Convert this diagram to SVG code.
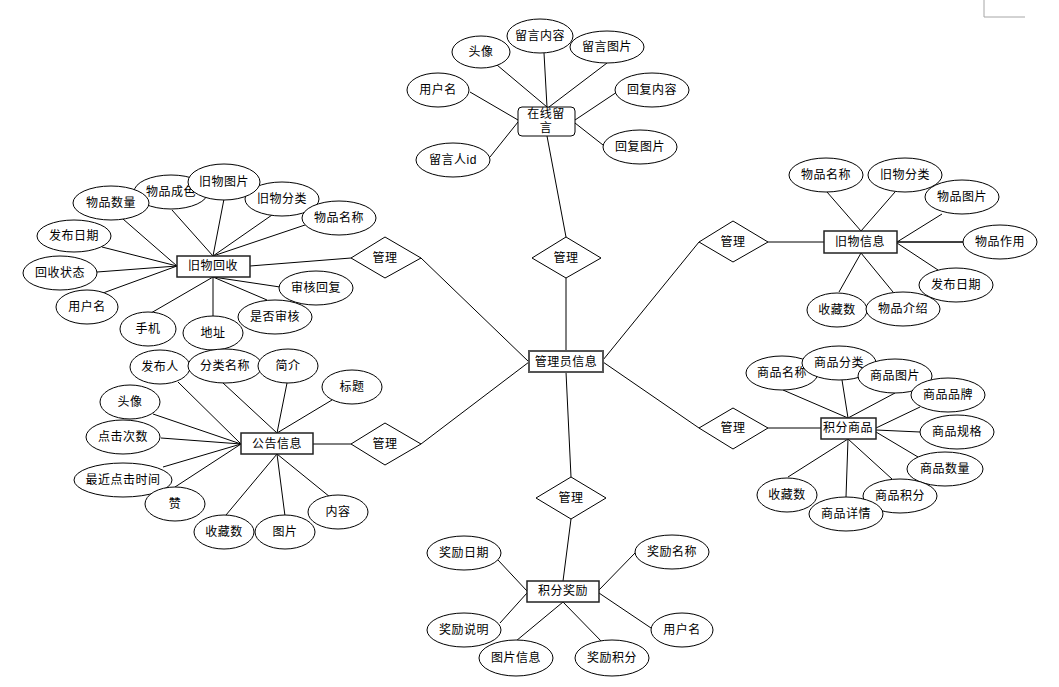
<svg xmlns="http://www.w3.org/2000/svg" width="1059" height="687" viewBox="0 0 1059 687">
<style>
.c line{stroke:#000;stroke-width:1}
.e{fill:#fff;stroke:#000;stroke-width:1}
.r{fill:#fff;stroke:#222;stroke-width:1.5}
.d{fill:#fff;stroke:#000;stroke-width:1}
text{font-family:"Liberation Sans","Noto Sans CJK SC",sans-serif;font-size:12px;fill:#000;text-anchor:middle;dominant-baseline:central;letter-spacing:0.5px}
</style>
<rect width="1059" height="687" fill="#fff"/>
<path d="M984,0 V17 H1025" fill="none" stroke="#a6a6a6" stroke-width="1"/>
<g id="connectors" class="c">
<line x1="547" y1="136" x2="566" y2="237"/>
<line x1="566" y1="278" x2="566" y2="351"/>
<line x1="421" y1="258" x2="529" y2="362"/>
<line x1="421" y1="444" x2="529" y2="362"/>
<line x1="603" y1="360" x2="699" y2="242"/>
<line x1="603" y1="362" x2="699" y2="428"/>
<line x1="566" y1="372" x2="571" y2="477"/>
<line x1="768" y1="242" x2="824" y2="242"/>
<line x1="768" y1="428" x2="821" y2="428"/>
<line x1="313" y1="444" x2="351" y2="444"/>
<line x1="250" y1="266" x2="351" y2="258"/>
<line x1="571" y1="519" x2="563" y2="581"/>
<line x1="497" y1="65" x2="547" y2="107"/>
<line x1="544" y1="53" x2="547" y2="107"/>
<line x1="607" y1="63" x2="549" y2="107"/>
<line x1="470" y1="92" x2="518" y2="120"/>
<line x1="490" y1="157" x2="518" y2="122"/>
<line x1="617" y1="92" x2="575" y2="120"/>
<line x1="603" y1="145" x2="575" y2="123"/>
<line x1="123" y1="219" x2="177" y2="266"/>
<line x1="172" y1="210" x2="213" y2="256"/>
<line x1="224" y1="199" x2="213" y2="256"/>
<line x1="272" y1="215" x2="213" y2="256"/>
<line x1="305" y1="225" x2="213" y2="256"/>
<line x1="102" y1="247" x2="177" y2="266"/>
<line x1="97" y1="272" x2="177" y2="266"/>
<line x1="103" y1="293" x2="177" y2="266"/>
<line x1="151" y1="313" x2="213" y2="277"/>
<line x1="213" y1="317" x2="213" y2="277"/>
<line x1="267" y1="300" x2="213" y2="277"/>
<line x1="280" y1="287" x2="213" y2="277"/>
<line x1="178" y1="382" x2="241" y2="444"/>
<line x1="223" y1="383" x2="277" y2="433"/>
<line x1="287" y1="383" x2="277" y2="433"/>
<line x1="332" y1="400" x2="277" y2="433"/>
<line x1="153" y1="414" x2="241" y2="444"/>
<line x1="161" y1="438" x2="241" y2="444"/>
<line x1="163" y1="467" x2="241" y2="444"/>
<line x1="175" y1="487" x2="241" y2="444"/>
<line x1="226" y1="515" x2="277" y2="454"/>
<line x1="285" y1="516" x2="277" y2="454"/>
<line x1="330" y1="497" x2="277" y2="454"/>
<line x1="827" y1="192" x2="861" y2="231"/>
<line x1="895" y1="192" x2="861" y2="231"/>
<line x1="942" y1="214" x2="897" y2="242"/>
<line x1="963" y1="242" x2="897" y2="242" style="stroke-width:1.5"/>
<line x1="938" y1="270" x2="897" y2="243"/>
<line x1="839" y1="292" x2="861" y2="253"/>
<line x1="893" y1="292" x2="861" y2="253"/>
<line x1="783" y1="390" x2="848" y2="418"/>
<line x1="842" y1="380" x2="848" y2="418"/>
<line x1="895" y1="393" x2="848" y2="418"/>
<line x1="920" y1="407" x2="876" y2="428"/>
<line x1="920" y1="432" x2="876" y2="430"/>
<line x1="918" y1="457" x2="876" y2="432"/>
<line x1="892" y1="479" x2="848" y2="439"/>
<line x1="846" y1="497" x2="848" y2="439"/>
<line x1="788" y1="477" x2="848" y2="439"/>
<line x1="498" y1="560" x2="527" y2="591"/>
<line x1="635" y1="553" x2="599" y2="590"/>
<line x1="500" y1="623" x2="527" y2="593"/>
<line x1="651" y1="628" x2="599" y2="593"/>
<line x1="516" y1="641" x2="563" y2="602"/>
<line x1="603" y1="643" x2="563" y2="602"/>
</g>
<!-- central -->
<g id="admin"><rect x="529" y="351" width="74" height="21" fill="#fff" stroke="#555" stroke-width="2"/><text x="566" y="362">管理员信息</text></g>
<g id="rel-top"><polygon class="d" points="566,237 601,258 566,278 532,258"/><text x="566" y="258">管理</text></g>
<g id="rel-lu"><polygon class="d" points="385,237 421,258 385,278 351,258"/><text x="385" y="258">管理</text></g>
<g id="rel-ll"><polygon class="d" points="385,423 421,444 385,465 351,444"/><text x="385" y="444">管理</text></g>
<g id="rel-ru"><polygon class="d" points="733,221 768,242 733,262 699,242"/><text x="733" y="242">管理</text></g>
<g id="rel-rl"><polygon class="d" points="733,408 768,428 733,449 699,428"/><text x="733" y="428">管理</text></g>
<g id="rel-b"><polygon class="d" points="571,477 606,498 571,519 536,498"/><text x="571" y="498">管理</text></g>
<!-- 在线留言 -->
<g id="msg"><rect x="518" y="107" width="57" height="29" rx="4" fill="#fff" stroke="#000" stroke-width="1"/><text x="546" y="114">在线留</text><text x="546" y="128">言</text></g>
<g id="msg-a1"><ellipse class="e" cx="481" cy="52" rx="29" ry="16"/><text x="481" y="52">头像</text></g>
<g id="msg-a2"><ellipse class="e" cx="540" cy="36" rx="33" ry="17"/><text x="540" y="36">留言内容</text></g>
<g id="msg-a3"><ellipse class="e" cx="607" cy="47" rx="37" ry="16"/><text x="607" y="47">留言图片</text></g>
<g id="msg-a4"><ellipse class="e" cx="438" cy="90" rx="31" ry="17"/><text x="438" y="90">用户名</text></g>
<g id="msg-a5"><ellipse class="e" cx="652" cy="90" rx="37" ry="17"/><text x="652" y="90">回复内容</text></g>
<g id="msg-a6"><ellipse class="e" cx="453" cy="160" rx="37" ry="17"/><text x="453" y="160">留言人id</text></g>
<g id="msg-a7"><ellipse class="e" cx="640" cy="147" rx="37" ry="17"/><text x="640" y="147">回复图片</text></g>
<!-- 旧物回收 -->
<g id="rec"><rect class="r" x="177" y="256" width="73" height="21"/><text x="213" y="266">旧物回收</text></g>
<g id="rec-a2"><ellipse class="e" cx="171" cy="192" rx="37" ry="17"/><text x="171" y="192">物品成色</text></g>
<g id="rec-a1"><ellipse class="e" cx="111" cy="203" rx="38" ry="17"/><text x="111" y="203">物品数量</text></g>
<g id="rec-a4"><ellipse class="e" cx="282" cy="199" rx="37" ry="17"/><text x="282" y="199">旧物分类</text></g>
<g id="rec-a3"><ellipse class="e" cx="224" cy="182" rx="36" ry="18"/><text x="224" y="182">旧物图片</text></g>
<g id="rec-a5"><ellipse class="e" cx="339" cy="218" rx="37" ry="17"/><text x="339" y="218">物品名称</text></g>
<g id="rec-a6"><ellipse class="e" cx="74" cy="236" rx="37" ry="16"/><text x="74" y="236">发布日期</text></g>
<g id="rec-a7"><ellipse class="e" cx="60" cy="273" rx="37" ry="17"/><text x="60" y="273">回收状态</text></g>
<g id="rec-a8"><ellipse class="e" cx="87" cy="307" rx="31" ry="17"/><text x="87" y="307">用户名</text></g>
<g id="rec-a9"><ellipse class="e" cx="148" cy="329" rx="28" ry="17"/><text x="148" y="329">手机</text></g>
<g id="rec-a10"><ellipse class="e" cx="213" cy="333" rx="30" ry="17"/><text x="213" y="333">地址</text></g>
<g id="rec-a12"><ellipse class="e" cx="316" cy="288" rx="37" ry="17"/><text x="316" y="288">审核回复</text></g>
<g id="rec-a11"><ellipse class="e" cx="275" cy="317" rx="37" ry="17"/><text x="275" y="317">是否审核</text></g>
<!-- 公告信息 -->
<g id="notice"><rect class="r" x="241" y="433" width="72" height="21"/><text x="277" y="444">公告信息</text></g>
<g id="not-a1"><ellipse class="e" cx="160" cy="367" rx="30" ry="17"/><text x="160" y="367">发布人</text></g>
<g id="not-a2"><ellipse class="e" cx="225" cy="366" rx="37" ry="17"/><text x="225" y="366">分类名称</text></g>
<g id="not-a3"><ellipse class="e" cx="288" cy="366" rx="30" ry="17"/><text x="288" y="366">简介</text></g>
<g id="not-a4"><ellipse class="e" cx="352" cy="387" rx="30" ry="17"/><text x="352" y="387">标题</text></g>
<g id="not-a5"><ellipse class="e" cx="130" cy="402" rx="30" ry="17"/><text x="130" y="402">头像</text></g>
<g id="not-a6"><ellipse class="e" cx="123" cy="437" rx="37" ry="17"/><text x="123" y="437">点击次数</text></g>
<g id="not-a7"><ellipse class="e" cx="123" cy="480" rx="49" ry="17"/><text x="123" y="480">最近点击时间</text></g>
<g id="not-a8"><ellipse class="e" cx="175" cy="504" rx="30" ry="17"/><text x="175" y="504">赞</text></g>
<g id="not-a9"><ellipse class="e" cx="224" cy="532" rx="30" ry="17"/><text x="224" y="532">收藏数</text></g>
<g id="not-a10"><ellipse class="e" cx="285" cy="532" rx="30" ry="17"/><text x="285" y="532">图片</text></g>
<g id="not-a11"><ellipse class="e" cx="338" cy="512" rx="30" ry="17"/><text x="338" y="512">内容</text></g>
<!-- 旧物信息 -->
<g id="item"><rect class="r" x="824" y="231" width="73" height="22"/><text x="860" y="242">旧物信息</text></g>
<g id="item-a1"><ellipse class="e" cx="826" cy="175" rx="37" ry="17"/><text x="826" y="175">物品名称</text></g>
<g id="item-a2"><ellipse class="e" cx="905" cy="175" rx="37" ry="17"/><text x="905" y="175">旧物分类</text></g>
<g id="item-a3"><ellipse class="e" cx="962" cy="197" rx="37" ry="17"/><text x="962" y="197">物品图片</text></g>
<g id="item-a4"><ellipse class="e" cx="1000" cy="242" rx="37" ry="17"/><text x="1000" y="242">物品作用</text></g>
<g id="item-a5"><ellipse class="e" cx="956" cy="285" rx="37" ry="17"/><text x="956" y="285">发布日期</text></g>
<g id="item-a6"><ellipse class="e" cx="837" cy="310" rx="30" ry="17"/><text x="837" y="310">收藏数</text></g>
<g id="item-a7"><ellipse class="e" cx="903" cy="309" rx="37" ry="17"/><text x="903" y="309">物品介绍</text></g>
<!-- 积分商品 -->
<g id="goods"><rect class="r" x="821" y="418" width="55" height="21"/><text x="848" y="428">积分商品</text></g>
<g id="goods-a1"><ellipse class="e" cx="782" cy="373" rx="36" ry="17"/><text x="782" y="373">商品名称</text></g>
<g id="goods-a2"><ellipse class="e" cx="839" cy="363" rx="37" ry="17"/><text x="839" y="363">商品分类</text></g>
<g id="goods-a3"><ellipse class="e" cx="895" cy="376" rx="37" ry="17"/><text x="895" y="376">商品图片</text></g>
<g id="goods-a4"><ellipse class="e" cx="948" cy="395" rx="37" ry="17"/><text x="948" y="395">商品品牌</text></g>
<g id="goods-a5"><ellipse class="e" cx="957" cy="432" rx="37" ry="17"/><text x="957" y="432">商品规格</text></g>
<g id="goods-a6"><ellipse class="e" cx="945" cy="469" rx="38" ry="17"/><text x="945" y="469">商品数量</text></g>
<g id="goods-a7"><ellipse class="e" cx="900" cy="496" rx="37" ry="17"/><text x="900" y="496">商品积分</text></g>
<g id="goods-a9"><ellipse class="e" cx="787" cy="495" rx="30" ry="17"/><text x="787" y="495">收藏数</text></g>
<g id="goods-a8"><ellipse class="e" cx="846" cy="514" rx="37" ry="17"/><text x="846" y="514">商品详情</text></g>
<!-- 积分奖励 -->
<g id="reward"><rect class="r" x="527" y="581" width="72" height="21"/><text x="563" y="591">积分奖励</text></g>
<g id="rew-a1"><ellipse class="e" cx="464" cy="553" rx="37" ry="17"/><text x="464" y="553">奖励日期</text></g>
<g id="rew-a2"><ellipse class="e" cx="672" cy="552" rx="37" ry="17"/><text x="672" y="552">奖励名称</text></g>
<g id="rew-a3"><ellipse class="e" cx="464" cy="630" rx="37" ry="17"/><text x="464" y="630">奖励说明</text></g>
<g id="rew-a4"><ellipse class="e" cx="682" cy="630" rx="31" ry="17"/><text x="682" y="630">用户名</text></g>
<g id="rew-a5"><ellipse class="e" cx="516" cy="658" rx="37" ry="18"/><text x="516" y="658">图片信息</text></g>
<g id="rew-a6"><ellipse class="e" cx="612" cy="658" rx="37" ry="18"/><text x="612" y="658">奖励积分</text></g>
</svg>
